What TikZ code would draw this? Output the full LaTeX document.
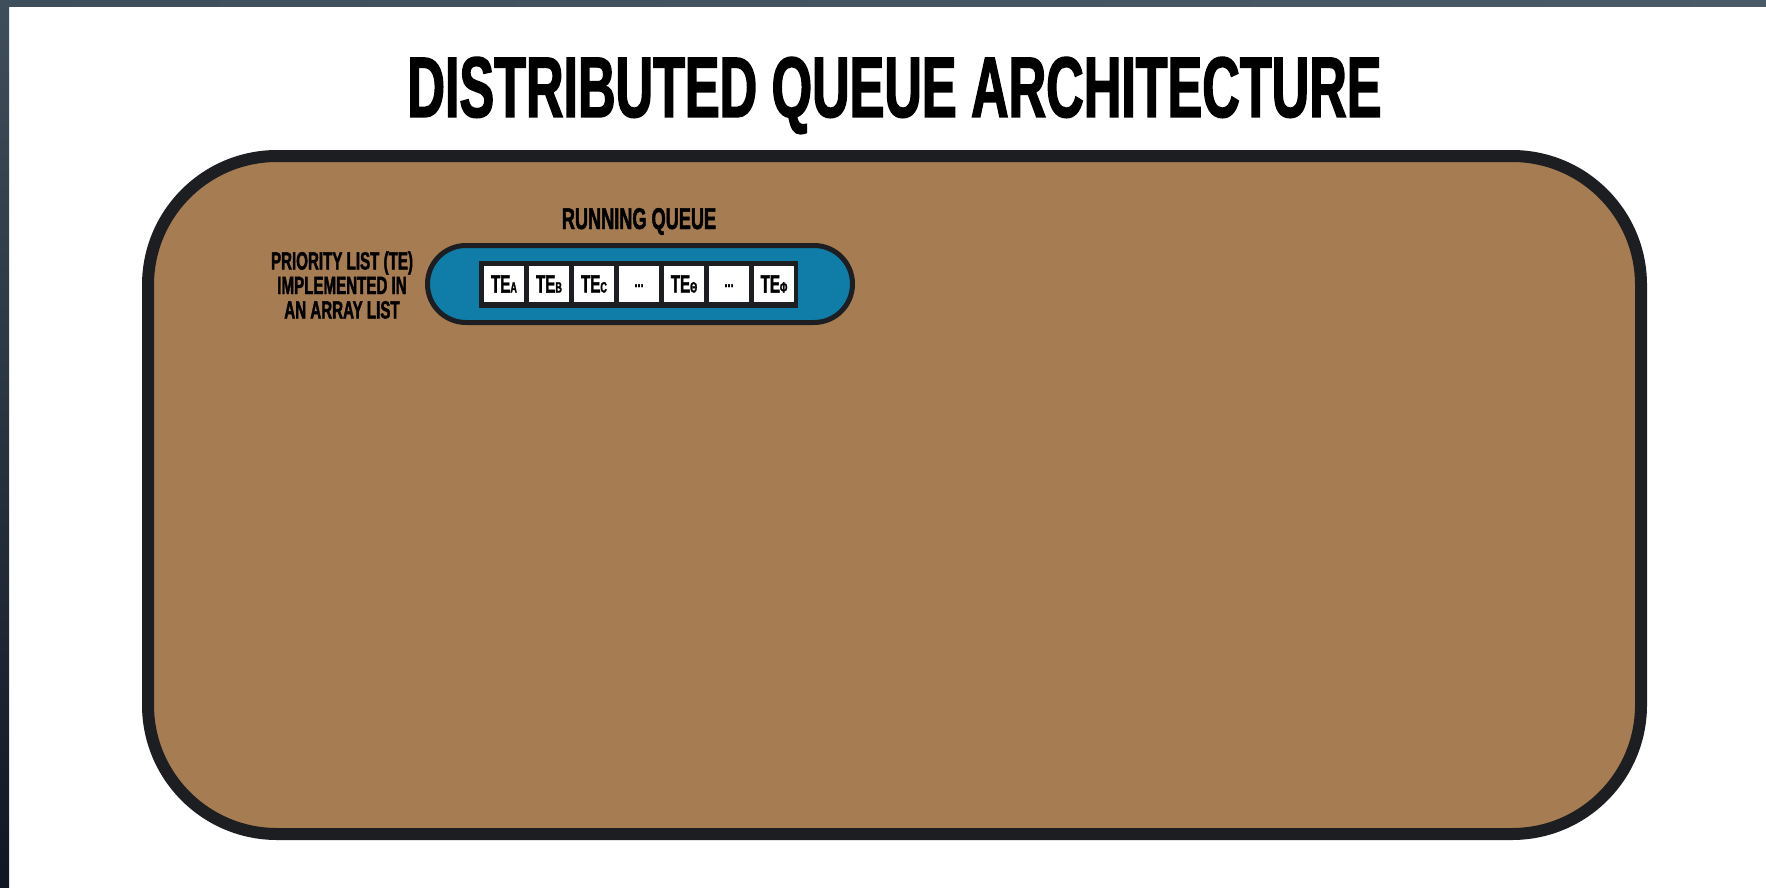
\documentclass[tikz,border=0pt]{standalone}
\usepackage{fontspec}
\newfontfamily\condfont[FakeStretch=0.605, BoldFeatures={FakeBold=1.6}]{Liberation Sans}
\definecolor{crate}{HTML}{A67C52}
\definecolor{outline}{HTML}{1C1E21}
\definecolor{queueblue}{HTML}{107DA8}
\definecolor{frametop}{HTML}{3E4E5A}
\definecolor{frameside}{HTML}{4A5A66}
\definecolor{framebot}{HTML}{111722}
\begin{document}
\begin{tikzpicture}[x=0.5pt,y=-0.5pt,
  caption/.style={font=\condfont\bfseries, inner sep=0pt, text=black},
  cell/.style={fill=white, minimum width=20pt, minimum height=18pt, inner sep=0pt,
    font=\condfont\bfseries\fontsize{12.5}{12.5}\selectfont}]
  \useasboundingbox (0,0) rectangle (1766,888);
  \fill[white] (0,0) rectangle (1766,888);
  % dark frame on the top and left edges
  \shade[left color=frametop, right color=frameside] (0,0) rectangle (1766,7);
  \shade[top color=frametop, bottom color=framebot] (0,0) rectangle (9,888);
  % title
  \node (title) [caption, anchor=base, font=\condfont\bfseries\fontsize{43}{43}\selectfont]
    at (894.5,117) {DISTRIBUTED QUEUE ARCHITECTURE};
  % the big box
  \draw[outline, line width=6pt, fill=crate, rounded corners=64.5pt] (148,156) rectangle (1641,834);
  % running queue
  \node (running) [caption, anchor=base, font=\condfont\bfseries\fontsize{15}{15}\selectfont]
    at (639,229) {RUNNING QUEUE};
  \node (prio) [caption, anchor=north, align=center,
    font=\condfont\bfseries\fontsize{12.5}{12.25}\selectfont]
    at (342,251) {PRIORITY LIST (TE)\\IMPLEMENTED IN\\AN ARRAY LIST};
  \node (pill) [draw=outline, line width=2.5pt, fill=queueblue, rounded corners=19.25pt,
    minimum width=212.5pt, minimum height=38.5pt] at (640,284) {};
  \node (tray) [fill=outline, minimum width=159.5pt, minimum height=23.5pt, inner sep=0pt]
    at (638.5,284.5) {};
  \foreach \sub [count=\i from 0] in {A,B,C,{},\char"0398,{},\char"03A6} {
    \ifx\sub\empty
      \node (te\i) [cell] at (504+45*\i,284) {\raisebox{-3pt}{\fontsize{9}{9}\selectfont...}};
    \else
      \node (te\i) [cell] at (504+45*\i,284) {TE{\fontsize{7.5}{7.5}\selectfont\sub}};
    \fi
  }
\end{tikzpicture}
\end{document}
